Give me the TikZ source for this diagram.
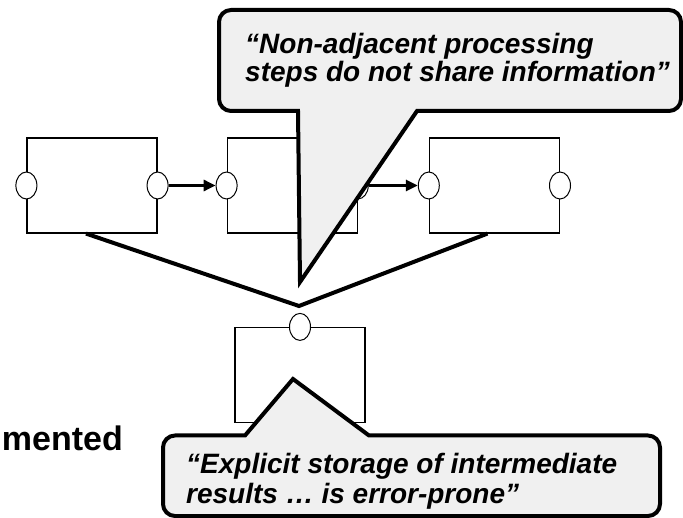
\documentclass[tikz,border=0pt]{standalone}
\usepackage{fontspec}
\setmainfont{Liberation Sans}
\usepackage{tikz}
\usetikzlibrary{positioning,shapes.geometric,arrows.meta}
\definecolor{bubblegray}{HTML}{F0F0F0}

\begin{document}
\begin{tikzpicture}[x=1pt,y=1pt,
			stage/.style={draw, line width=1.2pt, minimum width=130pt, minimum height=95pt, inner sep=0pt},
			port/.style={ellipse, draw, fill=white, line width=1pt, minimum width=21pt, minimum height=27pt, inner sep=0pt},
			flow/.style={line width=3.5pt, -{Triangle[length=12pt,width=11pt]}},
			link/.style={line width=4pt},
			bubble/.style={draw, line width=4pt, fill=bubblegray},
			quote/.style={inner sep=0pt, align=left, font=\fontsize{28}{#1}\selectfont\bfseries\itshape},
		]
			\useasboundingbox (0,0) rectangle (683,-518);

			\node[stage] (stepA) at (92,-185.5) {};
			\node[stage] (stepB) [right=69pt of stepA] {};
			\node[stage] (stepC) [right=71pt of stepB] {};
			\node[stage] (store) at (300,-375) {};

			\node[port] (stepAin)  at (stepA.west) {};
			\node[port] (stepAout) at (stepA.east) {};
			\node[port] (stepBin)  at (stepB.west) {};
			\node[port] (stepBout) at (stepB.east) {};
			\node[port] (stepCin)  at (stepC.west) {};
			\node[port] (stepCout) at (stepC.east) {};
			\node[port] (storein)  at (store.north) {};

			\draw[flow] (stepAout) -- (stepBin);
			\draw[flow] (stepBout) -- (stepCin);

			\coordinate (merge) at (299,-306);
			\draw[link] ([xshift=-6pt]stepA.south) -- (merge) -- ([xshift=-7pt]stepC.south);

			% speech bubbles
			\draw[bubble] (219,-60) [rounded corners=12pt] -- (219,-111) -- (260,-111) [sharp corners] -- (298,-111) -- (300,-282) -- (417,-111) -- (450,-111) [rounded corners=12pt] -- (681,-111) -- (681,-10) -- (219,-10) -- cycle;
			\draw[bubble] (163,-480) [rounded corners=12pt] -- (163,-435.5) -- (220,-435.5) [sharp corners] -- (245,-435.5) -- (293,-379) -- (369,-435.5) -- (400,-435.5) [rounded corners=12pt] -- (660,-435.5) -- (660,-516) -- (163,-516) -- cycle;

			\node[quote=28pt, anchor=north west] (adjacent) at (245,-33) {“Non-adjacent processing\\steps do not share information”};
			\node[quote=30pt, anchor=north west] (storage) at (186,-453) {“Explicit storage of intermediate\\results … is error-prone”};
			\node[anchor=base east, inner sep=0pt, font=\fontsize{34}{40}\selectfont\bfseries] (mented) at (123,-451) {mented};

		\end{tikzpicture}
\end{document}
